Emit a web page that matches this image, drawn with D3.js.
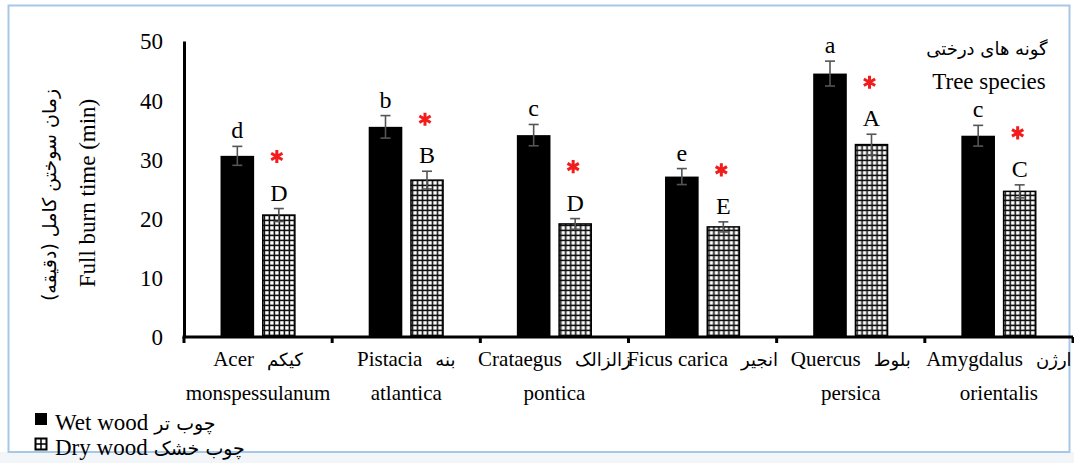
<!DOCTYPE html>
<html>
<head>
<meta charset="utf-8">
<script src="https://cdn.jsdelivr.net/npm/d3@7"></script>
<style>
  html, body { margin: 0; padding: 0; background: #fff; }
  svg { display: block; }
  text { font-family: "Liberation Serif", "Times New Roman", serif; fill: #000; }
  text.fa { font-family: "DejaVu Sans", sans-serif; }
</style>
</head>
<body>
<svg id="chart" width="1074" height="463"></svg>
<script>
// Tree species (Latin name split over two lines, plus Persian name)
const speciesLatin1 = ["Acer", "Pistacia", "Crataegus", "Ficus carica", "Quercus", "Amygdalus"];
const speciesLatin2 = ["monspessulanum", "atlantica", "pontica", "", "persica", "orientalis"];
const speciesPersian = ["کیکم", "بنه", "زالزالک", "انجیر", "بلوط", "ارژن"];

// Full burn time (min), mean and error
const wetValues = [30.6, 35.5, 34.1, 27.1, 44.5, 34.0];
const wetErrors = [1.6, 1.9, 1.8, 1.35, 2.1, 1.75];
const dryValues = [20.6, 26.5, 19.1, 18.6, 32.5, 24.6];
const dryErrors = [1.1, 1.5, 0.9, 0.85, 1.75, 1.1];

// Mean separation letters and wet/dry significance marks
const wetLetters = ["d", "b", "c", "e", "a", "c"];
const dryLetters = ["D", "B", "D", "E", "A", "C"];
const significance = ["*", "*", "*", "*", "*", "*"];

const yTicks = [0, 10, 20, 30, 40, 50];
const seriesKeys = ["wet", "dry"];

const svg = d3.select("#chart");

// outer frame
svg.append("rect")
  .attr("x", 0).attr("y", 452).attr("width", 1074).attr("height", 11)
  .attr("fill", "#f3f6f9");
svg.append("rect")
  .attr("x", 8.5).attr("y", 5.5).attr("width", 1061).attr("height", 446.5)
  .attr("fill", "none").attr("stroke", "#a8c7e6").attr("stroke-width", 2);

// grid hatch for dry wood bars
const defs = svg.append("defs");
const pat = defs.append("pattern")
  .attr("id", "grid").attr("patternUnits", "userSpaceOnUse")
  .attr("width", 5).attr("height", 5);
pat.append("rect").attr("width", 5).attr("height", 5).attr("fill", "#111");
pat.append("rect").attr("x", 1.2).attr("y", 1.2).attr("width", 3.4).attr("height", 3.4).attr("fill", "#fff");

const x = d3.scaleBand().domain(d3.range(speciesLatin1.length)).range([184, 1073]);
const xInner = d3.scaleBand().domain(seriesKeys).range([0, x.bandwidth()])
  .paddingInner(0.19).paddingOuter(0.88);
const y = d3.scaleLinear().domain([0, 50]).range([337, 41]);

const rows = speciesLatin1.map((_, i) => ({
  i,
  wet: { v: wetValues[i], e: wetErrors[i], l: wetLetters[i] },
  dry: { v: dryValues[i], e: dryErrors[i], l: dryLetters[i] }
}));

// Y axis
const yAxis = svg.append("g").attr("transform", "translate(184,0)")
  .call(d3.axisLeft(y).tickValues(yTicks).tickSize(0).tickPadding(21));
yAxis.select(".domain").attr("stroke", "#000").attr("stroke-width", 3);
yAxis.selectAll("text").style("font-family", "Liberation Serif").style("font-size", "23px")
  .attr("dy", "0.34em");

// Bars
const groups = svg.append("g").selectAll("g").data(rows).join("g")
  .attr("transform", d => `translate(${x(d.i)},0)`);

groups.append("rect")
  .attr("x", xInner("wet")).attr("width", xInner.bandwidth())
  .attr("y", d => y(d.wet.v)).attr("height", d => y(0) - y(d.wet.v))
  .attr("fill", "#000");

groups.append("rect")
  .attr("x", xInner("dry") + 0.75).attr("width", xInner.bandwidth() - 1.5)
  .attr("y", d => y(d.dry.v)).attr("height", d => y(0) - y(d.dry.v))
  .attr("fill", "url(#grid)").attr("stroke", "#000").attr("stroke-width", 1.5);

// Error bars and letters
seriesKeys.forEach(k => {
  const cx = xInner(k) + xInner.bandwidth() / 2;
  const eb = groups.append("g").attr("stroke", "#555").attr("stroke-width", 1.6);
  eb.append("line").attr("x1", cx).attr("x2", cx)
    .attr("y1", d => y(d[k].v + d[k].e)).attr("y2", d => y(d[k].v - d[k].e));
  eb.append("line").attr("x1", cx - 5).attr("x2", cx + 5)
    .attr("y1", d => y(d[k].v + d[k].e)).attr("y2", d => y(d[k].v + d[k].e));
  eb.append("line").attr("x1", cx - 5).attr("x2", cx + 5)
    .attr("y1", d => y(d[k].v - d[k].e)).attr("y2", d => y(d[k].v - d[k].e));

  groups.append("text")
    .attr("x", cx).attr("y", d => y(d[k].v + d[k].e) - 8)
    .attr("text-anchor", "middle").style("font-size", "24px")
    .text(d => d[k].l);
});

// significance asterisks above the dry bars
const star = d3.symbol().type(d3.symbolAsterisk).size(120);
groups.filter(d => significance[d.i] === "*").append("path")
  .attr("d", star)
  .attr("transform", d => `translate(${xInner("dry") + xInner.bandwidth() / 2 - 2},${y(d.dry.v + d.dry.e) - 52})`)
  .attr("stroke", "#f21c1c").attr("stroke-width", 3).attr("fill", "none");

// X axis
const xAxisG = svg.append("g");
xAxisG.append("line").attr("x1", 182.5).attr("x2", 1073).attr("y1", y(0)).attr("y2", y(0))
  .attr("stroke", "#000").attr("stroke-width", 3);
const boundaries = d3.range(speciesLatin1.length + 1).map(i => i === speciesLatin1.length ? x.range()[1] : x(i));
xAxisG.selectAll("line.tick").data(boundaries).join("line").attr("class", "tick")
  .attr("x1", d => d).attr("x2", d => d).attr("y1", y(0)).attr("y2", y(0) + 6)
  .attr("stroke", "#000").attr("stroke-width", 3);

// Mixed Latin + Persian line: separate text runs placed side by side
function pairLine(g, cx, baseline, en, fa, enSize, faSize, gap, anchor) {
  const t1 = g.append("text").attr("y", baseline).style("font-size", enSize + "px").text(en);
  const t2 = g.append("text").attr("class", "fa").attr("y", baseline)
    .style("font-size", faSize + "px").text(fa);
  const w1 = t1.node().getComputedTextLength();
  const w2 = t2.node().getComputedTextLength();
  const start = anchor === "start" ? cx : cx - (w1 + gap + w2) / 2;
  t1.attr("x", start);
  t2.attr("x", start + w1 + gap);
}

// Category labels
rows.forEach(d => {
  const cx = x(d.i) + x.bandwidth() / 2;
  const g = svg.append("g");
  pairLine(g, cx, 366, speciesLatin1[d.i], speciesPersian[d.i], 21, 18, 13, "middle");
  g.append("text").attr("x", cx).attr("y", 400).attr("text-anchor", "middle")
    .style("font-size", "21px").text(speciesLatin2[d.i]);
});

// Y axis titles
svg.append("text")
  .attr("transform", "translate(95,193) rotate(-90)")
  .attr("text-anchor", "middle").style("font-size", "23px")
  .text("Full burn time (min)");
svg.append("text").attr("class", "fa")
  .attr("transform", "translate(56,195) rotate(-90)")
  .attr("text-anchor", "middle").style("font-size", "19px")
  .text("زمان سوختن کامل (دقیقه)");

// Legend title
svg.append("text").attr("class", "fa")
  .attr("x", 987).attr("y", 55).attr("text-anchor", "middle").style("font-size", "18px")
  .text("گونه های درختی");
svg.append("text")
  .attr("x", 989).attr("y", 89).attr("text-anchor", "middle").style("font-size", "23px")
  .text("Tree species");

// Legend entries
const legend = [
  { key: "wet", en: "Wet wood", fa: "چوب تر" },
  { key: "dry", en: "Dry wood", fa: "چوب خشک" }
];
legend.forEach((d, i) => {
  const g = svg.append("g").attr("transform", `translate(35,${413 + i * 25})`);
  if (d.key === "wet") {
    g.append("rect").attr("width", 12).attr("height", 12).attr("fill", "#000");
  } else {
    g.append("rect").attr("x", 0.5).attr("y", 0.5).attr("width", 11).attr("height", 11)
      .attr("fill", "#fff").attr("stroke", "#000").attr("stroke-width", 2);
    g.append("path").attr("d", "M6,1V11M1,6H11").attr("stroke", "#000").attr("stroke-width", 1.5);
  }
  pairLine(g, 20, 17, d.en, d.fa, 23, 19, 6, "start");
});
</script>
</body>
</html>
